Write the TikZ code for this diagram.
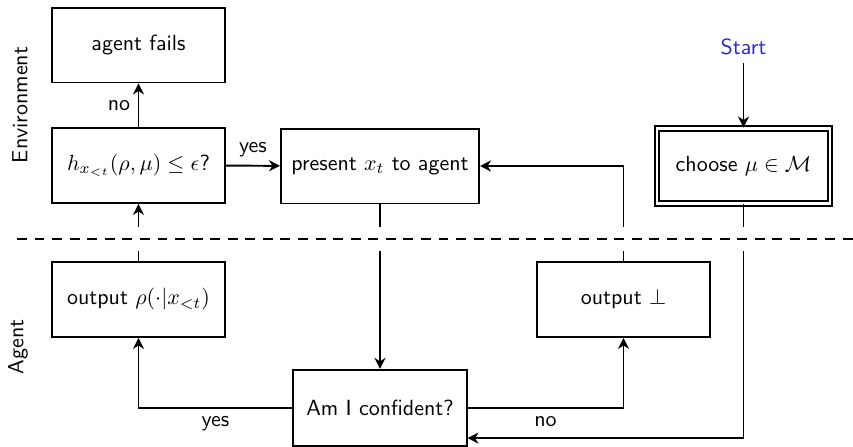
\documentclass[tikz,border=0pt]{standalone}
\usepackage{amsmath,amssymb}
\usepackage{xcolor}
\usepackage{tikz}
\usetikzlibrary{arrows,positioning,calc,arrows.meta}
\definecolor{startblue}{RGB}{40,40,200}
\tikzset{
    box/.style={draw, line width=0.9pt, minimum width=2.77cm, minimum height=1.2cm, font=\sffamily},
    flow/.style={line width=0.9pt, -{Stealth[length=5pt, width=5pt, inset=1.6pt]}},
}

\begin{document}
\begin{tikzpicture}[x=0.016cm, y=-0.016cm, font=\sffamily]
    \useasboundingbox (0,0) rectangle (853,447);

    % Environment
    \node[box] (fails) at (138.5,45) {agent fails};
    \node[box] (check) at (138.5,165.5) {$h_{x_{<t}}(\rho,\mu)\le\epsilon$?};
    \node[box, minimum width=3.17cm] (present) at (380,166) {present $x_t$ to agent};
    \node[box, double, double distance=1pt] (choose) at (743.5,166) {choose $\mu\in\mathcal{M}$};
    \node[text=startblue] (start) at (743.5,47) {Start};

    % Agent
    \node[box] (outrho) at (138.5,299.5) {output $\rho(\cdot|x_{<t})$};
    \node[box] (outbot) at (623.5,299.5) {output $\bot$};
    \node[box, minimum height=1.22cm] (conf) at (380,408) {Am I confident?};

    % Side labels
    \node[rotate=90] (envlabel) at (20,105) {Environment};
    \node[rotate=90] (agentlabel) at (18,347) {Agent};

    % Connectors
    \draw[flow] (check) -- node[left] {no} (fails);
    \draw[flow] (check) -- node[above] {yes} (present);
    \draw[flow] (start) -- (choose);
    \draw[flow] (present) -- (conf);
    \draw[flow] (conf) -| node[pos=0.25, below] {no} (outbot);
    \draw[flow] (conf) -| node[pos=0.25, below] {yes} (outrho);
    \draw[flow] (outbot) |- (present);
    \draw[flow] (outrho) -- (check);
    \draw[flow] (choose) |- ($(conf.south east)+(0,-9)$);

    % Boundary
    \fill[white] (0,227) rectangle (853,251);
    \draw[line width=0.9pt, dash pattern=on 4.5pt off 3.5pt] (17,239) -- (853,239);
\end{tikzpicture}
\end{document}
